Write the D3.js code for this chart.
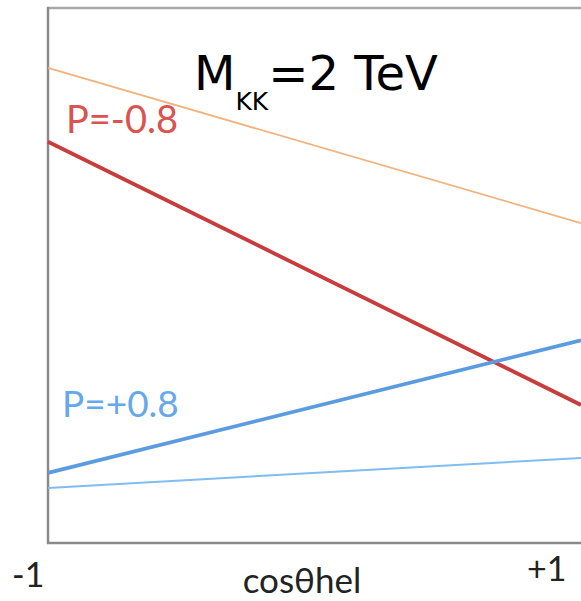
<!DOCTYPE html>
<html><head><meta charset="utf-8">
<script src="https://cdn.jsdelivr.net/npm/d3@7"></script>
<style>html,body{margin:0;padding:0;background:#fff;}svg{display:block;}</style>
</head><body>
<script>
// Data (arbitrary units, 0 = bottom axis, 100 = top frame)
const xDomain = [-1, 1];
const xTickLabels = ["-1", "+1"];
const seriesNames = ["orangeThin", "redThick", "blueThick", "lightBlueThin"];
const orangeThin = [88.8, 59.8];
const redThick = [75.0, 25.8];
const blueThick = [13.1, 37.9];
const lightBlueThin = [10.3, 15.9];
const seriesValues = [orangeThin, redThick, blueThick, lightBlueThin];
const seriesColors = ["#f2b27c", "#c93c3c", "#5b9be0", "#7fbdf0"];
const seriesWidths = [1.8, 3.8, 3.8, 2];

const W = 581, H = 601;
const svg = d3.select("body").append("svg").attr("width", W).attr("height", H);
const x = d3.scaleLinear().domain(xDomain).range([48, 581]);
const y = d3.scaleLinear().domain([0, 100]).range([543, 8]);

// frame
svg.append("line").attr("x1", 47).attr("x2", W).attr("y1", y(100)).attr("y2", y(100))
  .attr("stroke", "#a8a8a8").attr("stroke-width", 2.5);
svg.append("line").attr("x1", 47).attr("x2", W).attr("y1", y(0)).attr("y2", y(0))
  .attr("stroke", "#8a8a8a").attr("stroke-width", 2.5);
svg.append("line").attr("x1", x(-1)).attr("x2", x(-1)).attr("y1", y(100) - 1).attr("y2", y(0) + 1)
  .attr("stroke", "#8a8a8a").attr("stroke-width", 2.5);

const line = d3.line().x((d, i) => x(xDomain[i])).y(d => y(d));
seriesValues.forEach((vals, k) => {
  svg.append("path").attr("d", line(vals)).attr("fill", "none")
    .attr("stroke", seriesColors[k]).attr("stroke-width", seriesWidths[k]);
});

// labels
const calib = "Lato, 'Open Sans', sans-serif";
svg.append("text").attr("x", 66).attr("y", 133).attr("font-family", calib).attr("font-size", 38)
  .attr("fill", "#d9534f").text("P=-0.8");
svg.append("text").attr("x", 62).attr("y", 417).attr("font-family", calib).attr("font-size", 37)
  .attr("fill", "#66a8ec").text("P=+0.8");

const t = svg.append("text").attr("x", 194).attr("y", 90).attr("font-family", "'DejaVu Sans', sans-serif")
  .attr("font-size", 48).attr("fill", "#000");
t.append("tspan").text("M");
t.append("tspan").attr("font-size", 25).attr("dy", 20).text("KK");
t.append("tspan").attr("dy", -20).text("=2 TeV");

svg.append("text").attr("x", x(-1) - 36).attr("y", 587).attr("font-family", calib).attr("font-size", 34)
  .attr("fill", "#222").text(xTickLabels[0]);
svg.append("text").attr("x", x(1) - 54).attr("y", 581).attr("font-family", calib).attr("font-size", 34)
  .attr("fill", "#222").text(xTickLabels[1]);
svg.append("text").attr("x", 302).attr("y", 593).attr("text-anchor", "middle").attr("font-family", calib)
  .attr("font-size", 35).attr("fill", "#222").text("cosθhel");
</script>
</body></html>
